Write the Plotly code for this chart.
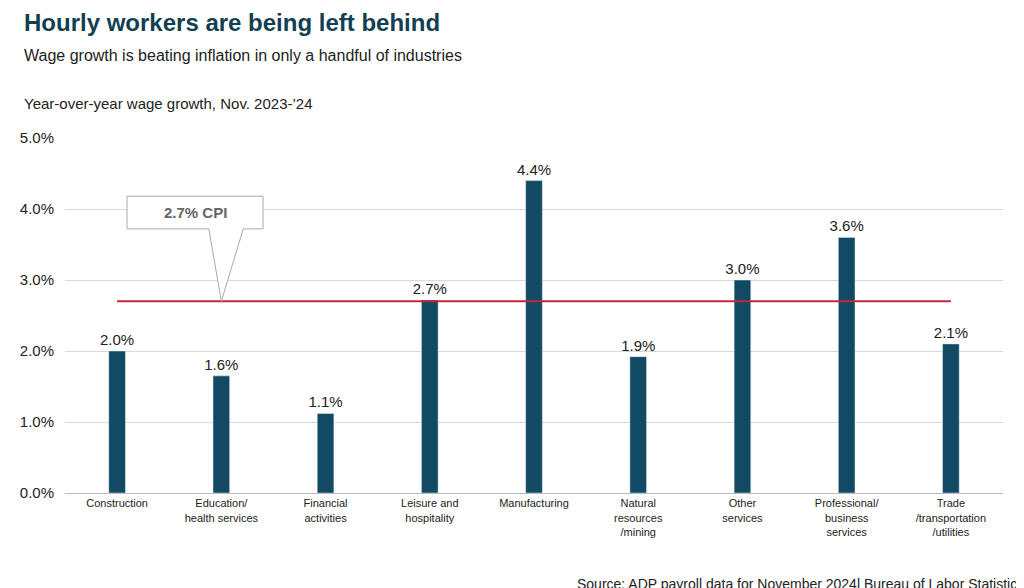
import plotly.graph_objects as go

categories = ["Construction", "Education/<br>health services", "Financial<br>activities",
              "Leisure and<br>hospitality", "Manufacturing", "Natural<br>resources<br>/mining",
              "Other<br>services", "Professional/<br>business<br>services", "Trade<br>/transportation<br>/utilities"]
values = [2.0, 1.65, 1.12, 2.72, 4.4, 1.92, 3.0, 3.6, 2.1]
labels = ["2.0%", "1.6%", "1.1%", "2.7%", "4.4%", "1.9%", "3.0%", "3.6%", "2.1%"]
cpi = 2.7

xs = list(range(len(categories)))
fig = go.Figure(go.Bar(x=xs, y=values, marker_color="#124a63", width=0.16,
                       text=labels, textposition="outside", cliponaxis=False, constraintext="none",
                       textfont=dict(size=15, color="#222", family="Liberation Sans")))
fig.add_shape(type="line", x0=0, x1=8, y0=cpi, y1=cpi, line=dict(color="#c0283a", width=2))
# callout
fig.add_shape(type="path", xref="x", yref="y",
              path="M 0.095 4.18 L 1.40 4.18 L 1.40 3.72 L 1.21 3.72 L 1.0 2.7 L 0.88 3.72 L 0.095 3.72 Z",
              line=dict(color="#aaaaaa", width=1), fillcolor="white")
fig.add_annotation(x=0.75, y=3.95, text="<b>2.7% CPI</b>", showarrow=False,
                   font=dict(size=15, color="#666", family="Liberation Sans"))

fig.update_layout(
    width=1024, height=588, plot_bgcolor="white", paper_bgcolor="white",
    margin=dict(l=47, r=29, t=130, b=103), showlegend=False,
    font=dict(family="Liberation Sans", color="#222"),
    xaxis=dict(tickmode="array", tickvals=xs, ticktext=categories, range=[-0.5, 8.5],
               showline=True, linecolor="#bbb", tickfont=dict(size=11), ticks=""),
    yaxis=dict(range=[0, 5], dtick=1, tickformat=".1f", ticksuffix="%", showgrid=True,
               gridcolor="#d9d9d9", zeroline=False, tickfont=dict(size=15), ticklabelstandoff=10),
)
fig.add_annotation(xref="paper", yref="paper", x=-0.046, y=1.0, yanchor="bottom", xanchor="left",
                   yshift=100, text="<b>Hourly workers are being left behind</b>", showarrow=False,
                   font=dict(size=24, color="#123f52"))
fig.add_annotation(xref="paper", yref="paper", x=-0.046, y=1.0, yanchor="bottom", xanchor="left",
                   yshift=72, text="Wage growth is beating inflation in only a handful of industries",
                   showarrow=False, font=dict(size=16))
fig.add_annotation(xref="paper", yref="paper", x=-0.046, y=1.0, yanchor="bottom", xanchor="left",
                   yshift=24, text="Year-over-year wage growth, Nov. 2023-’24", showarrow=False,
                   font=dict(size=15))
fig.add_annotation(xref="paper", yref="paper", x=1.025, y=0, yanchor="bottom", xanchor="right",
                   yshift=-101, text="Source: ADP payroll data for November 2024l Bureau of Labor Statistics",
                   showarrow=False, font=dict(size=14))
fig.write_html("out.html")
